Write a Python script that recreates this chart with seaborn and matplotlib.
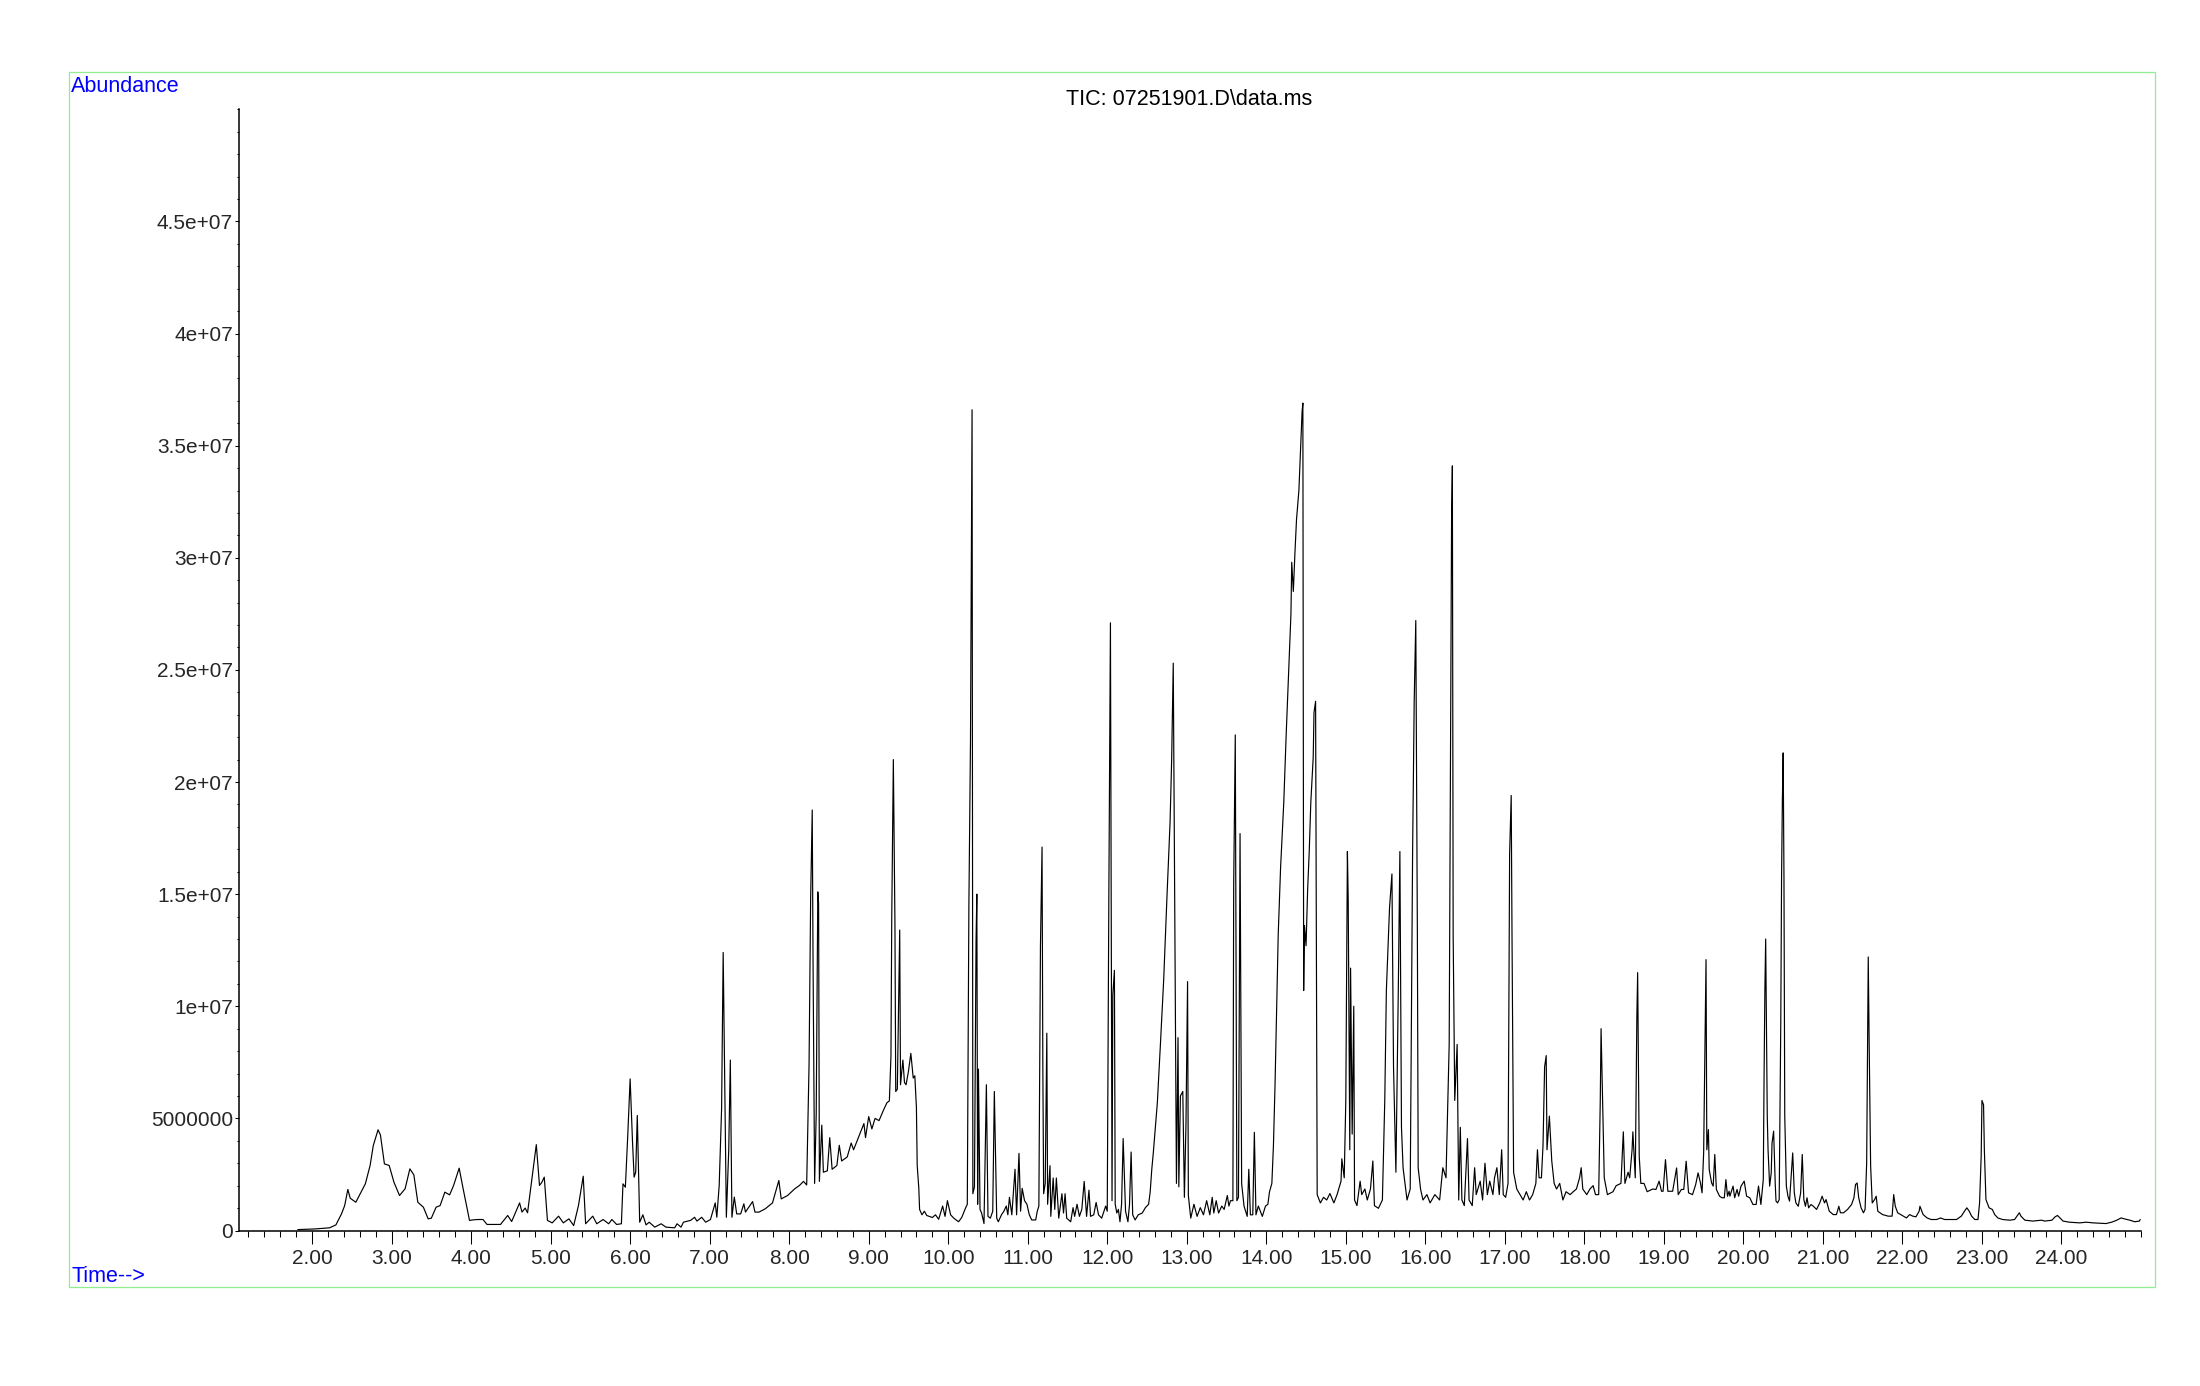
import matplotlib
matplotlib.use("Agg")
import numpy as np
import pandas as pd
import seaborn as sns
import matplotlib.pyplot as plt
from matplotlib.ticker import MultipleLocator, FixedLocator
from matplotlib.patches import Rectangle

# ---------------- data (retention time [min], abundance [millions]) ----------------
trace_early = [
    (1.82, 0.04), (2.04, 0.07), (2.22, 0.12), (2.30, 0.25), (2.37, 0.74), (2.41, 1.11), (2.45, 1.83),
    (2.48, 1.44), (2.55, 1.26), (2.62, 1.74), (2.67, 2.08), (2.73, 2.90), (2.77, 3.79), (2.83, 4.49),
    (2.86, 4.26), (2.91, 2.97), (2.97, 2.90), (3.03, 2.15), (3.10, 1.56), (3.17, 1.86), (3.23, 2.75),
    (3.28, 2.48), (3.33, 1.26), (3.40, 1.04), (3.46, 0.52), (3.50, 0.55), (3.56, 1.04), (3.61, 1.11),
    (3.67, 1.71), (3.73, 1.59), (3.78, 2.01), (3.85, 2.78), (3.90, 1.86), (3.98, 0.45), (4.04, 0.48),
    (4.09, 0.49), (4.15, 0.49), (4.20, 0.27), (4.37, 0.27), (4.46, 0.67), (4.51, 0.40), (4.61, 1.23),
    (4.64, 0.82), (4.68, 1.00), (4.71, 0.79), (4.77, 2.45), (4.82, 3.83), (4.86, 2.01), (4.89, 2.15),
    (4.92, 2.38), (4.96, 0.45), (5.02, 0.34), (5.10, 0.64), (5.16, 0.34), (5.23, 0.52), (5.29, 0.22),
    (5.35, 1.11), (5.41, 2.42), (5.44, 0.30), (5.53, 0.64), (5.58, 0.30), (5.66, 0.49), (5.73, 0.30),
    (5.77, 0.49), (5.83, 0.27), (5.89, 0.30), (5.91, 2.08), (5.94, 1.93), (5.97, 4.23), (6.00, 6.76),
    (6.03, 3.94), (6.05, 2.38), (6.07, 2.60), (6.09, 5.13), (6.12, 0.37), (6.16, 0.70), (6.20, 0.25),
    (6.24, 0.37), (6.31, 0.15), (6.39, 0.30), (6.45, 0.15), (6.56, 0.12), (6.59, 0.30), (6.64, 0.15),
    (6.67, 0.37), (6.76, 0.45), (6.81, 0.59), (6.84, 0.42), (6.90, 0.59), (6.95, 0.37), (7.01, 0.49),
    (7.07, 1.23), (7.09, 0.59), (7.12, 2.01), (7.15, 5.42), (7.17, 12.4), (7.20, 3.64), (7.21, 0.59),
    (7.24, 3.6), (7.26, 7.6), (7.28, 0.59), (7.31, 1.49), (7.34, 0.74), (7.39, 0.74), (7.43, 1.19),
    (7.45, 0.82), (7.54, 1.29), (7.57, 0.82), (7.62, 0.82), (7.70, 0.97), (7.79, 1.23), (7.87, 2.23),
    (7.90, 1.41), (7.98, 1.56), (8.07, 1.86), (8.13, 2.01),
]

trace_mid = [
    (8.18, 2.19), (8.22, 2.03), (8.25, 7.4), (8.27, 14.8), (8.29, 18.75), (8.30, 12.1), (8.32, 2.1),
    (8.34, 5.2), (8.36, 15.1), (8.37, 14.6), (8.38, 2.19), (8.41, 4.7), (8.43, 2.6), (8.48, 2.66),
    (8.51, 4.14), (8.54, 2.73), (8.60, 2.9), (8.63, 3.8), (8.66, 3.1), (8.73, 3.28), (8.78, 3.9),
    (8.81, 3.6), (8.87, 4.14), (8.94, 4.77), (8.96, 4.14), (9.00, 5.08), (9.04, 4.53), (9.08, 5.0),
    (9.13, 4.9), (9.19, 5.4), (9.23, 5.7), (9.26, 5.78), (9.28, 7.8), (9.29, 14.0), (9.31, 21.0),
    (9.33, 13.7), (9.34, 6.2), (9.36, 6.3), (9.39, 13.4), (9.40, 6.5), (9.43, 7.6), (9.45, 6.6),
    (9.47, 6.5), (9.50, 7.1), (9.53, 7.9), (9.56, 6.8), (9.58, 6.9), (9.60, 5.5), (9.61, 2.9),
    (9.63, 1.9), (9.64, 0.94), (9.67, 0.70), (9.70, 0.86), (9.73, 0.67), (9.80, 0.58), (9.84, 0.70),
    (9.88, 0.50), (9.93, 1.09), (9.96, 0.63), (9.99, 1.33), (10.03, 0.70), (10.07, 0.55), (10.13, 0.39),
    (10.17, 0.58), (10.22, 1.02), (10.24, 1.17), (10.26, 14.5), (10.28, 21.8), (10.30, 36.6),
    (10.31, 1.64), (10.33, 1.95), (10.35, 12.9), (10.36, 15.0), (10.37, 1.17), (10.38, 7.2),
    (10.40, 0.94), (10.42, 0.78), (10.45, 0.31), (10.48, 6.5), (10.50, 0.63), (10.53, 0.55),
    (10.56, 0.86), (10.58, 6.2), (10.61, 0.55), (10.63, 0.39), (10.67, 0.70), (10.70, 0.86),
    (10.73, 1.09), (10.75, 0.70), (10.77, 1.48), (10.80, 0.70), (10.84, 2.73), (10.86, 0.70),
    (10.89, 3.44), (10.91, 0.86), (10.93, 1.88), (10.96, 1.33), (10.99, 1.17), (11.02, 0.70),
    (11.05, 0.47), (11.10, 0.47), (11.12, 0.86), (11.14, 1.09), (11.16, 12.7), (11.18, 17.1),
    (11.19, 7.3), (11.20, 1.64), (11.22, 2.1), (11.24, 8.8), (11.25, 1.17), (11.28, 2.89), (11.29, 0.63),
    (11.32, 2.34), (11.34, 0.94), (11.36, 2.34), (11.39, 0.55), (11.43, 1.64), (11.45, 0.78),
    (11.47, 1.64), (11.49, 0.55), (11.54, 0.39), (11.57, 1.02), (11.59, 0.63), (11.62, 1.17),
    (11.65, 0.63), (11.68, 0.94), (11.71, 2.19), (11.74, 0.63), (11.77, 1.8), (11.79, 0.63),
    (11.83, 0.70), (11.86, 1.25), (11.89, 0.70), (11.93, 0.55), (11.98, 1.09), (12.00, 0.86),
    (12.02, 14.9), (12.04, 27.1), (12.06, 1.33), (12.07, 10.5), (12.09, 11.6), (12.10, 1.17),
    (12.12, 0.78), (12.14, 0.94), (12.16, 0.39), (12.18, 1.17), (12.20, 4.1), (12.23, 0.86),
    (12.26, 0.39), (12.28, 1.17), (12.30, 3.5), (12.32, 0.70), (12.35, 0.47), (12.39, 0.70),
    (12.44, 0.78), (12.48, 1.02), (12.52, 1.17), (12.54, 1.72), (12.56, 2.73), (12.58, 3.5),
    (12.63, 5.7), (12.67, 8.4), (12.71, 11.2), (12.75, 14.8), (12.79, 18.2), (12.81, 21.0),
    (12.83, 25.3), (12.85, 14.0), (12.87, 2.1), (12.89, 8.6), (12.90, 1.95), (12.92, 6.0), (12.95, 6.2),
    (12.97, 1.48), (12.99, 4.77), (13.01, 11.1), (13.02, 1.56), (13.05, 0.55), (13.09, 1.17),
    (13.13, 0.63), (13.17, 1.02), (13.21, 0.70), (13.25, 1.33), (13.29, 0.70), (13.32, 1.48),
    (13.34, 0.78), (13.37, 1.33), (13.40, 0.78), (13.44, 1.09), (13.47, 0.94), (13.51, 1.56),
    (13.53, 1.09), (13.55, 1.33), (13.58, 1.33), (13.59, 15.4), (13.61, 22.1), (13.63, 1.33),
    (13.65, 1.48), (13.67, 17.7), (13.69, 2.1), (13.72, 1.09), (13.76, 0.63), (13.78, 2.73),
    (13.80, 0.70), (13.83, 0.70), (13.85, 4.38), (13.87, 0.70), (13.90, 1.09), (13.95, 0.63),
    (13.99, 1.09), (14.02, 1.17), (14.04, 1.72), (14.07, 2.1),
]

trace_late = [
    (14.09, 3.8), (14.11, 6.5), (14.13, 9.75), (14.15, 13.2), (14.18, 16.2), (14.22, 19.1), (14.25, 22.1),
    (14.28, 24.8), (14.31, 27.5), (14.32, 29.8), (14.34, 28.5), (14.36, 30.2), (14.38, 31.7),
    (14.41, 33.0), (14.43, 34.7), (14.45, 36.5), (14.46, 36.9), (14.47, 10.7), (14.48, 13.6),
    (14.50, 12.7), (14.52, 15.2), (14.54, 16.9), (14.56, 19.1), (14.59, 21.1), (14.60, 23.1),
    (14.62, 23.6), (14.63, 12.7), (14.64, 1.6), (14.68, 1.23), (14.72, 1.48), (14.76, 1.36),
    (14.80, 1.65), (14.85, 1.23), (14.89, 1.6), (14.94, 2.2), (14.95, 3.2), (14.98, 2.35), (15.00, 5.8),
    (15.02, 16.9), (15.03, 14.8), (15.05, 3.6), (15.06, 11.7), (15.08, 4.3), (15.10, 10.0),
    (15.11, 1.36), (15.14, 1.11), (15.18, 2.2), (15.20, 1.6), (15.24, 1.85), (15.27, 1.36),
    (15.31, 1.85), (15.34, 3.1), (15.36, 1.11), (15.41, 0.99), (15.46, 1.36), (15.49, 5.8),
    (15.51, 10.7), (15.55, 14.4), (15.58, 15.9), (15.60, 7.3), (15.63, 2.6), (15.66, 10.7),
    (15.68, 16.9), (15.70, 4.6), (15.72, 2.8), (15.77, 1.36), (15.81, 1.85), (15.84, 16.9),
    (15.86, 23.6), (15.88, 27.2), (15.90, 13.2), (15.91, 2.8), (15.94, 1.85), (15.97, 1.36),
    (16.02, 1.6), (16.06, 1.23), (16.12, 1.6), (16.18, 1.36), (16.22, 2.8), (16.26, 2.35), (16.30, 8.3),
    (16.32, 24.6), (16.33, 31.7), (16.34, 34.1), (16.35, 13.2), (16.37, 5.8), (16.40, 8.3),
    (16.42, 1.36), (16.44, 4.6), (16.46, 1.36), (16.49, 1.11), (16.53, 4.1), (16.55, 1.36),
    (16.59, 1.11), (16.62, 2.8), (16.64, 1.6), (16.69, 2.2), (16.72, 1.36), (16.75, 3.0), (16.78, 1.6),
    (16.81, 2.2), (16.85, 1.6), (16.87, 2.35), (16.90, 2.8), (16.93, 1.6), (16.96, 3.6), (16.98, 1.6),
    (17.01, 1.48), (17.04, 2.1), (17.06, 16.8), (17.08, 19.4), (17.09, 13.2), (17.11, 2.6),
    (17.15, 1.85), (17.19, 1.6), (17.23, 1.36), (17.27, 1.73), (17.31, 1.36), (17.35, 1.6),
    (17.39, 2.1), (17.41, 3.6), (17.43, 2.35), (17.46, 2.35), (17.48, 3.8), (17.50, 7.3), (17.52, 7.8),
    (17.53, 3.6), (17.56, 5.1), (17.59, 3.1), (17.62, 2.1), (17.65, 1.85), (17.69, 2.1), (17.73, 1.36),
    (17.77, 1.73), (17.82, 1.6), (17.86, 1.73), (17.90, 1.85), (17.94, 2.35), (17.96, 2.8),
    (17.98, 1.85), (18.03, 1.6), (18.07, 1.85), (18.11, 2.0), (18.14, 1.6), (18.18, 1.6), (18.20, 5.8),
    (18.21, 9.0), (18.23, 5.6), (18.25, 2.35), (18.29, 1.6), (18.36, 1.73), (18.40, 2.0), (18.46, 2.1),
    (18.49, 4.4), (18.51, 2.1), (18.55, 2.6), (18.57, 2.35), (18.60, 3.6), (18.61, 4.4), (18.64, 2.35),
    (18.66, 9.5), (18.67, 11.5), (18.69, 3.3), (18.71, 2.1), (18.75, 2.1), (18.79, 1.73), (18.86, 1.85),
]

trace_tail = [
    (18.90, 1.83), (18.94, 2.2), (18.97, 1.75), (18.99, 1.75), (19.02, 3.16), (19.05, 1.75), (19.11, 1.75),
    (19.16, 2.79), (19.18, 1.6), (19.22, 1.83), (19.25, 1.83), (19.28, 3.09), (19.31, 1.68), (19.36, 1.6),
    (19.40, 2.05), (19.43, 2.57), (19.46, 2.12), (19.48, 1.68), (19.50, 3.46), (19.52, 9.26),
    (19.53, 12.08), (19.54, 3.6), (19.56, 4.5), (19.57, 2.72), (19.60, 2.12), (19.62, 1.98),
    (19.64, 3.39), (19.66, 1.83), (19.70, 1.53), (19.73, 1.46), (19.76, 1.46), (19.78, 2.27),
    (19.80, 1.53), (19.82, 1.75), (19.83, 1.53), (19.87, 1.98), (19.89, 1.46), (19.92, 1.83),
    (19.94, 1.53), (19.97, 1.98), (20.01, 2.2), (20.04, 1.53), (20.08, 1.46), (20.12, 1.16),
    (20.16, 1.16), (20.19, 1.98), (20.22, 1.16), (20.25, 2.27), (20.26, 6.9), (20.27, 10.7),
    (20.28, 13.0), (20.30, 5.1), (20.31, 3.6), (20.33, 1.98), (20.35, 2.57), (20.36, 3.9), (20.38, 4.43),
    (20.40, 2.12), (20.41, 1.31), (20.43, 1.23), (20.45, 1.38), (20.47, 9.26), (20.48, 15.8),
    (20.49, 19.2), (20.50, 21.3), (20.51, 15.8), (20.52, 5.1), (20.54, 1.98), (20.56, 1.53),
    (20.58, 1.31), (20.60, 2.42), (20.62, 3.46), (20.64, 1.68), (20.66, 1.23), (20.69, 1.08),
    (20.72, 1.68), (20.74, 3.39), (20.76, 1.38), (20.78, 1.08), (20.80, 1.46), (20.82, 1.01),
    (20.85, 1.16), (20.88, 1.08), (20.92, 0.94), (20.96, 1.23), (20.99, 1.53), (21.02, 1.23),
    (21.04, 1.38), (21.08, 0.86), (21.13, 0.71), (21.17, 0.71), (21.20, 1.08), (21.22, 0.79),
    (21.26, 0.79), (21.31, 0.94), (21.36, 1.16), (21.39, 1.46), (21.41, 2.05), (21.43, 2.12),
    (21.45, 1.46), (21.48, 1.01), (21.51, 0.79), (21.53, 0.94), (21.55, 3.0), (21.56, 7.8),
    (21.57, 12.2), (21.58, 8.8), (21.60, 2.87), (21.62, 1.23), (21.65, 1.38), (21.67, 1.53),
    (21.69, 0.86), (21.75, 0.71), (21.82, 0.64), (21.87, 0.64), (21.89, 1.6), (21.91, 1.08),
    (21.94, 0.79), (22.01, 0.64), (22.05, 0.56), (22.09, 0.71), (22.13, 0.64), (22.17, 0.61),
    (22.21, 0.86), (22.22, 1.08), (22.26, 0.71), (22.31, 0.56), (22.36, 0.49), (22.43, 0.49),
    (22.48, 0.56), (22.53, 0.49), (22.59, 0.49), (22.68, 0.49), (22.74, 0.64), (22.78, 0.86),
    (22.81, 1.01), (22.84, 0.86), (22.87, 0.64), (22.91, 0.49), (22.95, 0.49), (22.97, 1.23),
    (22.99, 3.3), (23.00, 5.8), (23.02, 5.6), (23.03, 3.6), (23.05, 1.38), (23.09, 1.01), (23.13, 0.94),
    (23.16, 0.71), (23.20, 0.56), (23.26, 0.49), (23.35, 0.46), (23.41, 0.49), (23.44, 0.64),
    (23.47, 0.79), (23.49, 0.64), (23.54, 0.46), (23.64, 0.42), (23.75, 0.46), (23.79, 0.42),
    (23.88, 0.46), (23.92, 0.61), (23.95, 0.67), (23.98, 0.56), (24.02, 0.42), (24.10, 0.37),
    (24.23, 0.34), (24.31, 0.37), (24.40, 0.34), (24.56, 0.31), (24.63, 0.37), (24.69, 0.45),
    (24.75, 0.56), (24.79, 0.52), (24.86, 0.46), (24.92, 0.39), (24.98, 0.42), (24.99, 0.49),
]

x_major_ticks = list(range(2, 25))
x_tick_labels = [f"{v:.2f}" for v in x_major_ticks]
y_major_ticks = [0, 5, 10, 15, 20, 25, 30, 35, 40, 45]  # millions
y_tick_labels = ["0", "5000000", "1e+07", "1.5e+07", "2e+07", "2.5e+07",
                 "3e+07", "3.5e+07", "4e+07", "4.5e+07"]
title_text = "TIC: 07251901.D\\data.ms"
y_label_text = "Abundance"
x_label_text = "Time-->"

# ---------------- figure ----------------
sns.set_style("white")
plt.rcParams["font.family"] = ["Liberation Sans", "DejaVu Sans"]

W, H = 2200, 1386
fig = plt.figure(figsize=(W / 100, H / 100), dpi=100)
fig.patch.set_facecolor("white")

ax_l, ax_r, ax_b, ax_t = 239.3, 2141.0, 1230.5, 109.3
ax = fig.add_axes([ax_l / W, 1 - ax_b / H, (ax_r - ax_l) / W, (ax_b - ax_t) / H])
ax.set_facecolor("white")

rows = trace_early + trace_mid + trace_late + trace_tail
df = pd.DataFrame(rows, columns=["time", "abundance"])
df["order"] = np.arange(len(df))
sns.lineplot(data=df, x="time", y="abundance", ax=ax, color="black",
             linewidth=0.85, estimator=None, sort=False)

ax.set_xlim(1.085, 25.0)
ax.set_ylim(0, 50)
ax.set_xlabel("")
ax.set_ylabel("")

for s in ["top", "right"]:
    ax.spines[s].set_visible(False)
for s in ["left", "bottom"]:
    ax.spines[s].set_color("black")
    ax.spines[s].set_linewidth(1.1)

ax.xaxis.set_major_locator(FixedLocator(x_major_ticks))
ax.set_xticklabels(x_tick_labels)
ax.xaxis.set_minor_locator(MultipleLocator(0.2))
ax.yaxis.set_major_locator(FixedLocator(y_major_ticks))
ax.set_yticklabels(y_tick_labels)
ax.yaxis.set_minor_locator(MultipleLocator(1))

ax.tick_params(axis="x", which="major", direction="out", length=9.4, width=0.75,
               color="black", labelsize=15, pad=4, bottom=True)
ax.tick_params(axis="x", which="minor", direction="out", length=4.5, width=0.75,
               color="black", bottom=True)
ax.tick_params(axis="y", which="major", direction="out", length=3.0, width=0.75,
               color="black", labelsize=15, pad=1.5, left=True)
ax.tick_params(axis="y", which="minor", direction="out", length=1.5, width=0.75,
               color="black", left=True)

fig.text(1189.5 / W, 1 - 105 / H, title_text, ha="center", va="baseline",
         fontsize=15.5, color="black")
fig.text(71 / W, 1 - 92 / H, y_label_text, ha="left", va="baseline",
         fontsize=15.5, color="#0000ff")
fig.text(71 / W, 1 - 1282 / H, x_label_text, ha="left", va="baseline",
         fontsize=15.5, color="#0000ff")

fig.add_artist(Rectangle((69.3 / W, 1 - 1286.7 / H), (2155.3 - 69.3) / W, (1286.7 - 71.7) / H,
                         transform=fig.transFigure, fill=False, edgecolor="#90ee90",
                         linewidth=0.9))

fig.savefig("out.png", dpi=100, facecolor="white")
